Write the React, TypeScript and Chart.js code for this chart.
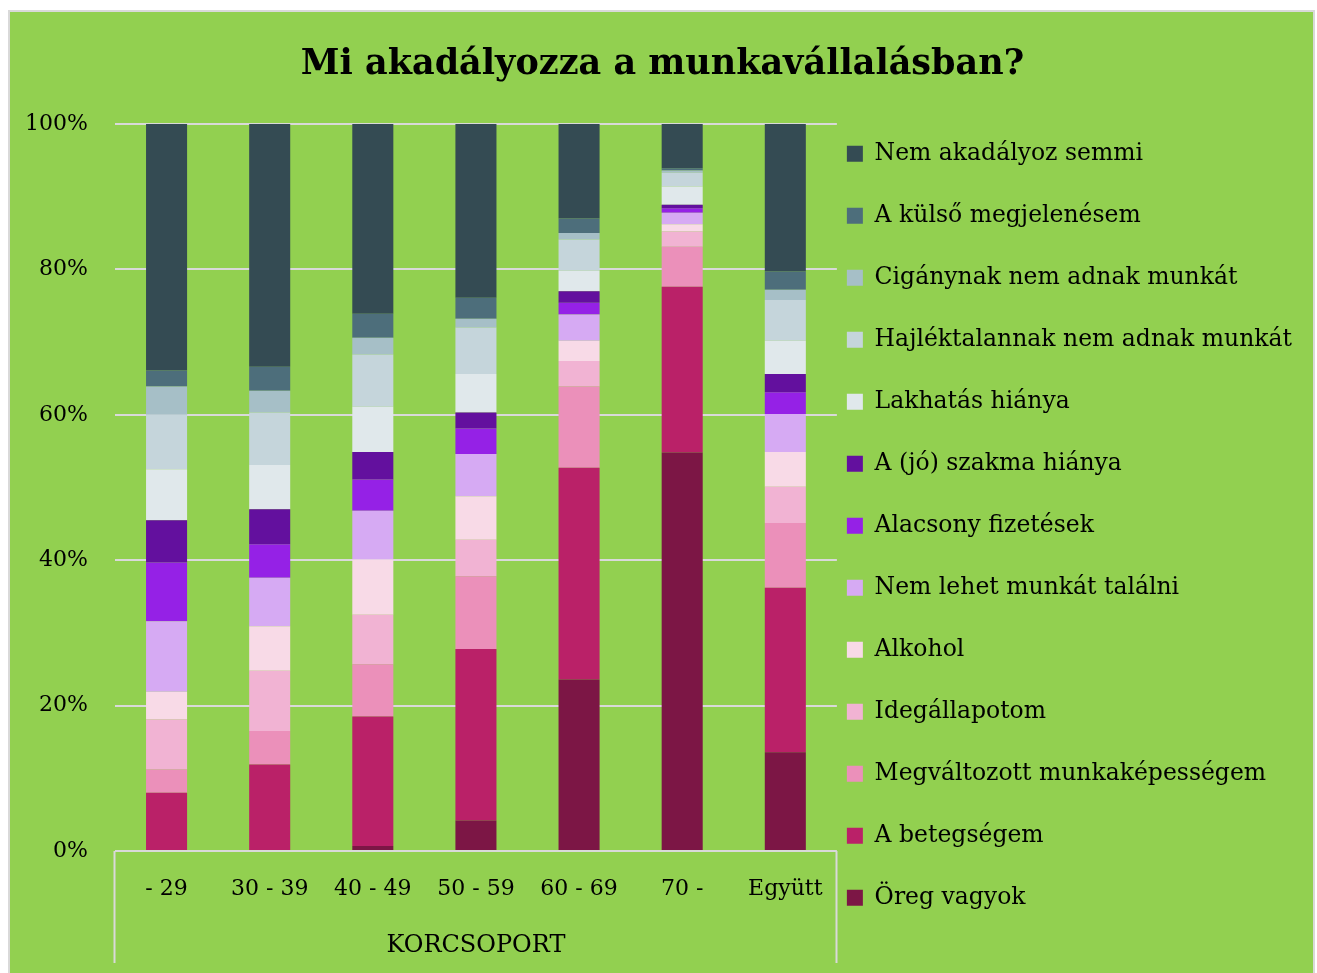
import React, { useEffect, useRef } from 'react';
import { Chart, registerables } from 'chart.js';

Chart.register(...registerables);

const categories = ['- 29', '30 - 39', '40 - 49', '50 - 59', '60 - 69', '70 -', 'Együtt'];

// values in percent, one per category (bottom of stack first)
const oregVagyok = [0, 0, 0.7, 4.2, 23.6, 54.8, 13.6];
const betegsegem = [8.0, 11.9, 17.8, 23.6, 29.1, 22.8, 22.6];
const megvaltozott = [3.2, 4.6, 7.2, 10.0, 11.2, 5.5, 8.9];
const idegallapotom = [6.9, 8.3, 6.8, 5.0, 3.5, 2.1, 5.0];
const alkohol = [3.8, 6.1, 7.6, 6.0, 2.8, 1.0, 4.8];
const nemLehetTalalni = [9.7, 6.7, 6.7, 5.8, 3.6, 1.6, 5.2];
const alacsonyFizetesek = [8.1, 4.6, 4.3, 3.5, 1.6, 0.6, 3.0];
const szakmaHianya = [5.8, 4.8, 3.8, 2.2, 1.6, 0.5, 2.5];
const lakhatasHianya = [7.0, 6.1, 6.2, 5.3, 2.8, 2.5, 4.6];
const hajlektalannak = [7.5, 7.2, 7.2, 6.4, 4.3, 1.9, 5.6];
const ciganynak = [3.9, 3.0, 2.3, 1.2, 0.9, 0.3, 1.4];
const kulsoMegjelenes = [2.2, 3.3, 3.3, 2.9, 2.0, 0.3, 2.5];
const nemAkadalyoz = [33.9, 33.4, 26.1, 23.9, 13.0, 6.1, 20.3];

const yTicks = [0, 20, 40, 60, 80, 100];

const seriesLabels = [
  'Öreg vagyok',
  'A betegségem',
  'Megváltozott munkaképességem',
  'Idegállapotom',
  'Alkohol',
  'Nem lehet munkát találni',
  'Alacsony fizetések',
  'A (jó) szakma hiánya',
  'Lakhatás hiánya',
  'Hajléktalannak nem adnak munkát',
  'Cigánynak nem adnak munkát',
  'A külső megjelenésem',
  'Nem akadályoz semmi',
];
const seriesValues = [
  oregVagyok, betegsegem, megvaltozott, idegallapotom, alkohol, nemLehetTalalni,
  alacsonyFizetesek, szakmaHianya, lakhatasHianya, hajlektalannak, ciganynak,
  kulsoMegjelenes, nemAkadalyoz,
];
const seriesColors = [
  '#7C1645', '#BA2168', '#EB90BA', '#F1B3D3', '#F8DAE7', '#D6AAF3',
  '#9521E6', '#63109E', '#E0E8EB', '#C5D5DB', '#A6BFC7', '#4D6E7B', '#344B53',
];

const FONT = "'DejaVu Serif', 'Liberation Serif', serif";
const GRID = '#D9D9D9';

export default function App() {
  const ref = useRef<HTMLCanvasElement | null>(null);

  useEffect(() => {
    if (!ref.current) return;
    const chart = new Chart(ref.current, {
      type: 'bar',
      data: {
        labels: categories,
        datasets: seriesLabels.map((label, i) => ({
          label,
          data: seriesValues[i],
          backgroundColor: seriesColors[i],
          borderWidth: 0,
          barPercentage: 0.398,
          categoryPercentage: 1,
        })),
      },
      options: {
        responsive: false,
        animation: false,
        devicePixelRatio: 1,
        layout: { padding: { left: 13, right: 48, top: 0, bottom: 0 } },
        plugins: {
          tooltip: { enabled: false },
          title: {
            display: true,
            text: 'Mi akadályozza a munkavállalásban?',
            color: '#000',
            font: { family: FONT, size: 35, weight: 'bold', lineHeight: 1.2 },
            padding: { top: 31.6, bottom: 38.4 },
          },
          legend: {
            position: 'right',
            align: 'start',
            maxWidth: 1000,
            title: {
              display: true,
              text: '',
              font: { family: FONT, size: 10, lineHeight: 1 },
              padding: { top: 110, bottom: 0 },
            },
            labels: {
              color: '#000',
              font: { family: FONT, size: 23.5, lineHeight: '52px' },
              boxWidth: 16,
              boxHeight: 16,
              padding: 10,
              generateLabels: (c: any) => {
                const items = Chart.defaults.plugins.legend.labels.generateLabels(c);
                return items.map((it: any) => ({ ...it, text: [it.text], lineWidth: 0 })).reverse();
              },
            },
          },
        },
        scales: {
          x: {
            stacked: true,
            grid: {
              display: true,
              drawOnChartArea: false,
              drawTicks: true,
              tickLength: 112,
              tickWidth: 2,
              offset: true,
              tickColor: (c: any) => (c.type !== 'tick' || c.index === 0 ? GRID : 'rgba(0,0,0,0)'),
            },
            border: { display: false },
            ticks: {
              color: '#000',
              font: { family: FONT, size: 22, lineHeight: 1.2 },
              padding: -87.2,
              maxRotation: 0,
              autoSkip: false,
            },
            title: {
              display: true,
              text: 'KORCSOPORT',
              color: '#000',
              font: { family: FONT, size: 24, lineHeight: 1.2 },
              padding: { top: 0, bottom: 12.6 },
            },
            afterFit: (s: any) => {
              s.height = 122;
            },
          },
          y: {
            stacked: true,
            min: 0,
            max: 100,
            afterBuildTicks: (s: any) => {
              s.ticks = yTicks.map((v) => ({ value: v }));
            },
            grid: { color: GRID, lineWidth: 2, drawTicks: false },
            border: { display: false },
            ticks: {
              color: '#000',
              font: { family: FONT, size: 22 },
              padding: 27,
              callback: (v: any) => v + '%',
            },
            afterFit: (s: any) => {
              s.width = 92;
            },
          },
        },
      },
    });
    return () => chart.destroy();
  }, []);

  return (
    <div
      style={{
        position: 'fixed',
        left: 8,
        top: 10,
        width: 1307,
        height: 963,
        boxSizing: 'border-box',
        borderTop: `2px solid ${GRID}`,
        borderLeft: `2px solid ${GRID}`,
        borderRight: `2px solid ${GRID}`,
        background: '#92D050',
        overflow: 'hidden',
      }}
    >
      <canvas ref={ref} width={1340} height={961} style={{ display: 'block' }} />
    </div>
  );
}
